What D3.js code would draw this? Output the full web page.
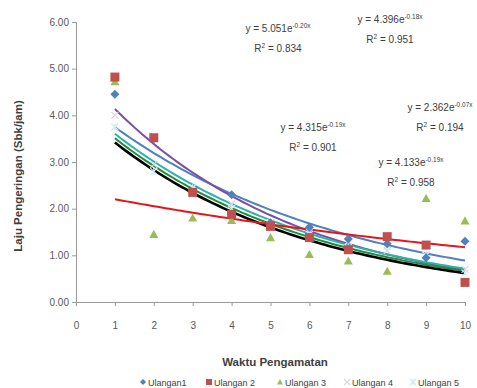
<!DOCTYPE html>
<html><head><meta charset="utf-8">
<script src="https://cdn.jsdelivr.net/npm/d3@7"></script>
<style>body{margin:0;background:#fff}svg{display:block}</style>
</head><body>
<svg id="c" width="477" height="388"></svg>
<script>
const xTicks = [0,1,2,3,4,5,6,7,8,9,10];
const yTicks = [0,1,2,3,4,5,6];
const waktu = [1,2,3,4,5,6,7,8,9,10];
const ulangan1 = [4.45,3.50,2.35,2.30,1.70,1.60,1.35,1.25,0.95,1.30];
const ulangan2 = [4.82,3.52,2.35,1.88,1.62,1.38,1.12,1.40,1.22,0.42];
const ulangan3 = [4.72,1.45,1.80,1.75,1.38,1.02,0.88,0.66,2.22,1.74];
const ulangan4 = [4.00,2.95,2.30,2.10,1.70,1.50,1.30,1.10,1.00,0.70];
const ulangan5 = [3.75,2.80,2.45,2.00,1.60,1.45,1.30,1.20,1.00,0.62];
const seriesNames = ["Ulangan1","Ulangan 2","Ulangan 3","Ulangan 4","Ulangan 5"];
const seriesColors = ["#4F81BD","#C0504D","#9BBB59","#DDD3EC","#D2ECF3"];
const seriesShapes = ["diamond","square","triangle","cross","star"];
// trendlines y = a * e^(b x)
const trendA = [4.396,5.051,4.315,4.22,4.133,2.362];
const trendB = [-0.16,-0.20,-0.18,-0.185,-0.19,-0.07];
const trendColors = ["#4F81BD","#7B4FA8","#2BB3A3","#1E8E3E","#000000","#E8141B"];
const trendWidths = [2,2,2,2,2.6,2];
const eqText = ["5.051","4.396","2.362","4.315","4.133"];
const eqExp = ["-0.20x","-0.18x","-0.07x","-0.19x","-0.19x"];
const eqR2 = ["0.834","0.951","0.194","0.901","0.958"];
const eqX = [278,390,440,313,411];
const eqY = [29,20,108,128,163];

const svg = d3.select("#c");
const x = d3.scaleLinear().domain([0,10]).range([76,465]);
const y = d3.scaleLinear().domain([0,6]).range([302,22]);
const font = "'Liberation Sans Narrow','Liberation Sans',Arial,sans-serif";

// axes
const ya = svg.append("g").attr("transform","translate(76,0)")
  .call(d3.axisLeft(y).tickValues(yTicks).tickFormat(d3.format(".2f")).tickSize(4).tickPadding(3));
const xa = svg.append("g").attr("transform","translate(0,302)")
  .call(d3.axisBottom(x).tickValues(xTicks).tickFormat(d3.format("d")).tickSize(4).tickPadding(16));
[ya,xa].forEach(g=>{
  g.select(".domain").attr("stroke","#9a9a9a");
  g.selectAll(".tick line").attr("stroke","#9a9a9a");
  g.selectAll("text").attr("fill","#595959").style("font-family",font).style("font-size","10px");
});

// trendlines
const xs = d3.range(1,10.001,0.1);
trendA.forEach((a,i)=>{
  const line = d3.line().x(d=>x(d)).y(d=>y(a*Math.exp(trendB[i]*d)));
  svg.append("path").attr("d",line(xs)).attr("fill","none")
    .attr("stroke",trendColors[i]).attr("stroke-width",trendWidths[i]);
});

// markers
function drawMarker(g, shape, color, cx, cy, s){
  if(shape==="diamond"){
    g.append("path").attr("d",`M${cx},${cy-s}L${cx+s},${cy}L${cx},${cy+s}L${cx-s},${cy}Z`).attr("fill",color);
  } else if(shape==="square"){
    g.append("rect").attr("x",cx-s).attr("y",cy-s).attr("width",2*s).attr("height",2*s).attr("fill",color);
  } else if(shape==="triangle"){
    g.append("path").attr("d",`M${cx},${cy-s}L${cx+s},${cy+s*0.8}L${cx-s},${cy+s*0.8}Z`).attr("fill",color);
  } else if(shape==="cross"){
    g.append("path").attr("d",`M${cx-s},${cy-s}L${cx+s},${cy+s}M${cx-s},${cy+s}L${cx+s},${cy-s}`).attr("stroke",color).attr("stroke-width",1.2);
  } else {
    g.append("path").attr("d",`M${cx-s},${cy-s}L${cx+s},${cy+s}M${cx-s},${cy+s}L${cx+s},${cy-s}M${cx},${cy-s}L${cx},${cy+s}`).attr("stroke",color).attr("stroke-width",1.2);
  }
}
const allSeries = [ulangan1,ulangan2,ulangan3,ulangan4,ulangan5];
const mg = svg.append("g");
[4,3,2,0,1].forEach(si=>{
  allSeries[si].forEach((v,j)=>{
    drawMarker(mg, seriesShapes[si], seriesColors[si], x(waktu[j]), y(v), si<3?4.5:3.5);
  });
});

// equations
eqText.forEach((t,i)=>{
  const tx = svg.append("text").attr("x",eqX[i]).attr("y",eqY[i]+3).attr("text-anchor","middle")
    .attr("fill","#404040").style("font-family",font).style("font-size","10px");
  tx.append("tspan").text("y = "+t+"e");
  tx.append("tspan").attr("dy",-4).style("font-size","6.5px").text(eqExp[i]);
  const r = svg.append("text").attr("x",eqX[i]).attr("y",eqY[i]+23).attr("text-anchor","middle")
    .attr("fill","#404040").style("font-family",font).style("font-size","10px");
  r.append("tspan").text("R");
  r.append("tspan").attr("dy",-4).style("font-size","6.5px").text("2");
  r.append("tspan").attr("dy",4).text(" = "+eqR2[i]);
});

// axis titles
svg.append("text").attr("transform","translate(22,176) rotate(-90)").attr("text-anchor","middle")
  .attr("fill","#404040").style("font-family",font).style("font-size","11.5px").style("font-weight","bold")
  .text("Laju Pengeringan (Sbk/jam)");
svg.append("text").attr("x",275).attr("y",366).attr("text-anchor","middle")
  .attr("fill","#404040").style("font-family",font).style("font-size","11.5px").style("font-weight","bold")
  .text("Waktu Pengamatan");

// legend
const legX = [143,209,280,347,413];
seriesNames.forEach((n,i)=>{
  drawMarker(svg, seriesShapes[i], seriesColors[i], legX[i], 382, 3);
  svg.append("text").attr("x",legX[i]+5).attr("y",385.5).attr("fill","#404040")
    .style("font-family",font).style("font-size","9px").text(n);
});
</script>
</body></html>
